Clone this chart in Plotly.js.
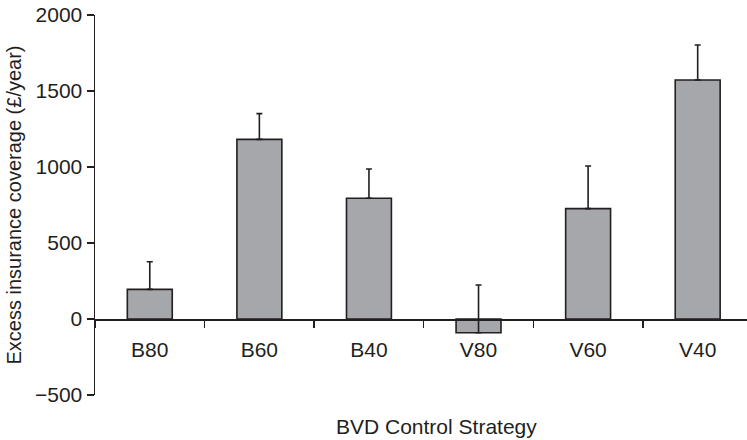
<!DOCTYPE html>
<html>
<head>
<meta charset="utf-8">
<script src="https://cdn.plot.ly/plotly-3.0.1.min.js"></script>
<style>html,body{margin:0;padding:0;background:#fff;overflow:hidden;}#chart{width:747px;height:440px;}</style>
</head>
<body>
<div id="chart"></div>
<script>
const strategies = ["B80", "B60", "B40", "V80", "V60", "V40"];
const excessCoverage = [195, 1182, 794, -90, 726, 1572];
const errorPlus = [182, 169, 193, 314, 281, 231];
const errorMinus = [0, 0, 0, 0, 0, 0];
const yTickValues = [-500, 0, 500, 1000, 1500, 2000];
const xTitle = "BVD Control Strategy";
const yTitle = "Excess insurance coverage (£/year)";

const ink = "#231f20";
const fontFamily = "Liberation Sans, Arial, Helvetica, sans-serif";

const trace = {
  type: "bar",
  x: strategies,
  y: excessCoverage,
  marker: { color: "#a6a7ab", line: { color: ink, width: 1.6 } },
  error_y: {
    type: "data", symmetric: false,
    array: errorPlus, arrayminus: errorMinus,
    color: ink, thickness: 1.6, width: 3
  },
  hoverinfo: "none"
};

const layout = {
  width: 747, height: 440,
  margin: { l: 95, r: 0, t: 15, b: 45 },
  paper_bgcolor: "#ffffff", plot_bgcolor: "#ffffff",
  showlegend: false,
  bargap: 0.59,
  font: { family: fontFamily, size: 21, color: ink },
  xaxis: {
    type: "category",
    range: [-0.5, 5.45],
    anchor: "free", position: 0.2,
    showline: true, linecolor: ink, linewidth: 1.5,
    ticks: "outside", tickson: "boundaries", ticklen: 7, tickwidth: 1.5, tickcolor: ink,
    ticklabelstandoff: 11,
    showgrid: false, zeroline: false,
    tickfont: { family: fontFamily, size: 21, color: ink }
  },
  yaxis: {
    range: [-500, 2000],
    tickmode: "array", tickvals: yTickValues,
    showline: true, linecolor: ink, linewidth: 1.5,
    ticks: "outside", ticklen: 7, tickwidth: 1.5, tickcolor: ink,
    showgrid: false, zeroline: false,
    tickfont: { family: fontFamily, size: 21, color: ink },
    title: { text: yTitle, font: { family: fontFamily, size: 20, color: ink }, standoff: 8 }
  },
  annotations: [{
    text: xTitle, xref: "paper", yref: "paper",
    x: 0.524, y: -0.082, xanchor: "center", yanchor: "middle",
    showarrow: false, font: { family: fontFamily, size: 21, color: ink }
  }]
};

Plotly.newPlot("chart", [trace], layout, { staticPlot: true, displayModeBar: false });
</script>
</body>
</html>
